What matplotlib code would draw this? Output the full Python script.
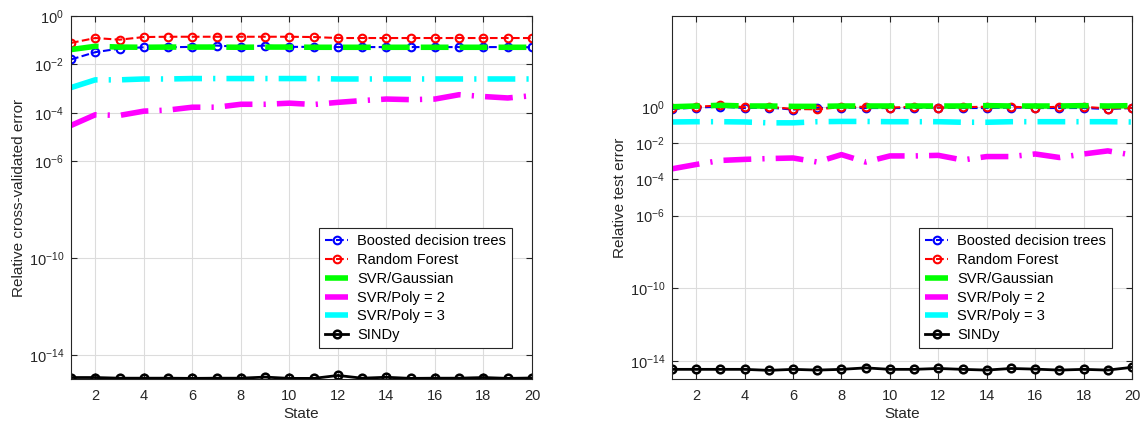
import numpy as np
import matplotlib
matplotlib.use("Agg")
import matplotlib.pyplot as plt
from matplotlib.ticker import FixedLocator, LogFormatterSciNotation, NullLocator

plt.rcParams['font.family'] = ['Liberation Sans', 'DejaVu Sans']

state = np.arange(1, 21)

# cross-validated error
cv_boost = [0.016, 0.032, 0.045, 0.051, 0.051, 0.053, 0.060, 0.053, 0.060, 0.053,
            0.053, 0.052, 0.052, 0.052, 0.052, 0.052, 0.052, 0.052, 0.052, 0.051]
cv_rf = [0.077, 0.123, 0.105, 0.135, 0.139, 0.139, 0.139, 0.139, 0.139, 0.139,
         0.135, 0.123, 0.123, 0.123, 0.123, 0.123, 0.123, 0.123, 0.123, 0.123]
cv_gauss = [0.041, 0.056, 0.052, 0.051, 0.052, 0.052, 0.052, 0.051, 0.052, 0.052,
            0.051, 0.051, 0.051, 0.051, 0.051, 0.051, 0.051, 0.051, 0.051, 0.051]
cv_poly2 = [3.0e-5, 8.3e-5, 7.8e-5, 1.17e-4, 1.3e-4, 1.7e-4, 1.7e-4, 2.25e-4, 2.25e-4, 2.5e-4,
            2.2e-4, 2.7e-4, 3.2e-4, 3.7e-4, 3.5e-4, 3.7e-4, 5.6e-4, 4.7e-4, 4.1e-4, 5.1e-4]
cv_poly3 = [1.1e-3, 2.3e-3, 2.3e-3, 2.5e-3, 2.5e-3, 2.6e-3, 2.6e-3, 2.6e-3, 2.6e-3, 2.6e-3,
            2.6e-3, 2.5e-3, 2.5e-3, 2.5e-3, 2.5e-3, 2.5e-3, 2.5e-3, 2.5e-3, 2.5e-3, 2.5e-3]
cv_sindy = [1.15e-15, 1.15e-15, 1.08e-15, 1.08e-15, 1.08e-15, 1.06e-15, 1.08e-15, 1.08e-15, 1.2e-15, 1.06e-15,
            1.06e-15, 1.4e-15, 1.08e-15, 1.18e-15, 1.06e-15, 1.08e-15, 1.08e-15, 1.15e-15, 1.06e-15, 1.1e-15]

# test error
te_boost = [0.75, 0.9, 1.0, 0.85, 0.9, 0.7, 0.85, 0.9, 0.85, 0.85,
            0.85, 0.9, 0.85, 0.85, 0.9, 0.85, 0.85, 0.85, 0.75, 0.85]
te_rf = [0.85, 1.0, 1.18, 0.95, 1.0, 0.75, 0.72, 0.95, 1.0, 0.9,
         1.0, 0.9, 0.95, 1.0, 1.0, 0.9, 1.0, 1.0, 0.8, 0.87]
te_gauss = [1.0, 1.1, 1.2, 1.1, 1.1, 1.05, 1.05, 1.1, 1.1, 1.1,
            1.1, 1.1, 1.1, 1.15, 1.1, 1.1, 1.1, 1.15, 1.1, 1.15]
te_poly2 = [3.8e-4, 6.6e-4, 1.1e-3, 1.26e-3, 1.4e-3, 1.5e-3, 9e-4, 2.3e-3, 9e-4, 1.95e-3,
            1.95e-3, 2.1e-3, 1.17e-3, 1.8e-3, 1.8e-3, 2.5e-3, 1.6e-3, 2.5e-3, 3.7e-3, 2.2e-3]
te_poly3 = [0.145, 0.15, 0.15, 0.145, 0.13, 0.13, 0.15, 0.155, 0.155, 0.15,
            0.15, 0.15, 0.14, 0.14, 0.15, 0.15, 0.15, 0.15, 0.15, 0.145]
te_sindy = [3.4e-15, 3.4e-15, 3.4e-15, 3.4e-15, 3.0e-15, 3.4e-15, 3.1e-15, 3.4e-15, 4.1e-15, 3.4e-15,
            3.4e-15, 3.8e-15, 3.4e-15, 3.1e-15, 3.8e-15, 3.5e-15, 3.1e-15, 3.4e-15, 3.1e-15, 4.4e-15]

names = ['Boosted decision trees', 'Random Forest', 'SVR/Gaussian',
         'SVR/Poly = 2', 'SVR/Poly = 3', 'SINDy']
yticks = [1e-14, 1e-10, 1e-6, 1e-4, 1e-2, 1e0]
axcol = '#262626'


def panel(ax, series, ylim, ylabel):
    b, rf, g, p2, p3, s = series
    ax.semilogy(state, b, '--o', color='b', lw=1.5, ms=5.5, mfc='none', mew=1.5, label=names[0])
    ax.semilogy(state, rf, '--o', color='r', lw=1.5, ms=5.5, mfc='none', mew=1.5, label=names[1])
    ax.semilogy(state, g, '--', color='#00ff00', lw=4, dashes=(5, 2), label=names[2])
    ax.semilogy(state, p2, '-.', color='#ff00ff', lw=4, dashes=(5, 2, 0.4, 2), label=names[3])
    ax.semilogy(state, p3, '-.', color='#00ffff', lw=4, dashes=(5, 2, 0.4, 2), label=names[4])
    ax.semilogy(state, s, '-o', color='k', lw=2, ms=5.5, mfc='none', mew=1.8, label=names[5])
    ax.set_xlim(1, 20)
    ax.set_ylim(*ylim)
    ax.set_xticks(np.arange(2, 21, 2))
    ax.yaxis.set_major_locator(FixedLocator(yticks))
    ax.yaxis.set_major_formatter(LogFormatterSciNotation())
    ax.yaxis.set_minor_locator(NullLocator())
    ax.grid(True, color='#dcdcdc', lw=0.8)
    ax.set_axisbelow(True)
    ax.tick_params(direction='in', top=True, right=True, labelsize=10.5,
                   colors=axcol, length=4)
    ax.tick_params(axis='x', pad=7)
    ax.tick_params(axis='y', pad=5)
    for sp in ax.spines.values():
        sp.set_color(axcol)
        sp.set_linewidth(0.8)
    ax.set_xlabel('State', fontsize=11, color=axcol, labelpad=3)
    ax.set_ylabel(ylabel, fontsize=11, color=axcol, labelpad=2)
    leg = ax.legend(loc='lower right', bbox_to_anchor=(0.956, 0.085), borderaxespad=0,
                    fontsize=10.5, handlelength=1.6, handletextpad=0.6, borderpad=0.4,
                    labelspacing=0.33, fancybox=False, framealpha=1)
    leg.get_frame().set_edgecolor(axcol)
    leg.get_frame().set_linewidth(0.8)


fig = plt.figure(figsize=(11.42, 4.23), dpi=100)
ax1 = fig.add_axes([71/1142, 1 - 379/423, 461/1142, 363/423])
ax2 = fig.add_axes([672/1142, 1 - 379/423, 460/1142, 363/423])

panel(ax1, [cv_boost, cv_rf, cv_gauss, cv_poly2, cv_poly3, cv_sindy],
      (1e-15, 1e0), 'Relative cross-validated error')
panel(ax2, [te_boost, te_rf, te_gauss, te_poly2, te_poly3, te_sindy],
      (1e-15, 1e5), 'Relative test error')

fig.savefig('out.png', dpi=100)
